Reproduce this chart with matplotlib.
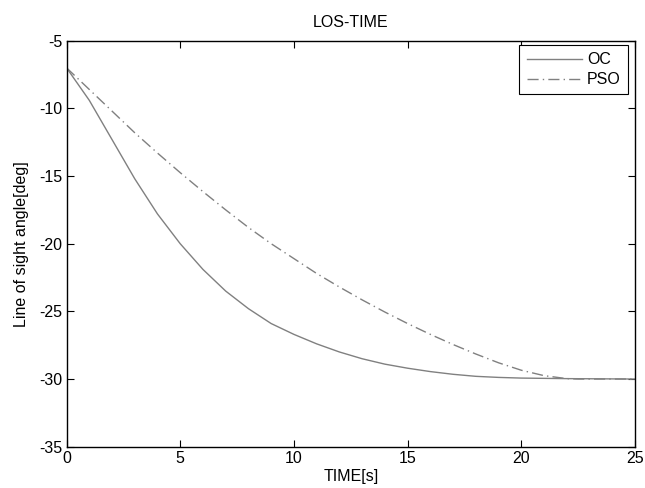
import numpy as np
import matplotlib
matplotlib.use("Agg")
import matplotlib.pyplot as plt

# values
t_oc = [0, 1, 2, 3, 4, 5, 6, 7, 8, 9, 10, 11, 12, 13, 14, 15, 16, 17, 18, 19, 20, 22, 25]
los_oc = [-7.0, -9.4, -12.3, -15.2, -17.8, -20.0, -21.9, -23.5, -24.8, -25.9, -26.7, -27.4,
          -28.0, -28.5, -28.9, -29.2, -29.45, -29.65, -29.8, -29.88, -29.93, -29.97, -30.0]

t_pso = [0, 1, 2, 3, 4, 5, 6, 7, 8, 9, 10, 11, 12, 13, 14, 15, 16, 17, 18, 19, 20, 21, 22, 22.5, 25]
los_pso = [-7.0, -8.6, -10.2, -11.8, -13.3, -14.75, -16.15, -17.5, -18.8, -20.0, -21.1, -22.2,
           -23.2, -24.15, -25.05, -25.9, -26.7, -27.45, -28.15, -28.8, -29.35, -29.75, -29.97,
           -30.0, -30.0]

plt.rcParams['font.family'] = ['Liberation Sans', 'DejaVu Sans']
plt.rcParams['font.size'] = 11.5
plt.rcParams['axes.unicode_minus'] = False

fig = plt.figure(figsize=(6.45, 4.88), dpi=100)
ax = fig.add_axes([66.5/645, 1 - 446.7/488, (635 - 66.5)/645, (446.7 - 40.7)/488])

grey = '#808080'
ax.plot(t_oc, los_oc, color=grey, lw=1.0, label='OC')
ax.plot(t_pso, los_pso, color=grey, lw=1.0, linestyle=(0, (8, 3, 1, 3)), label='PSO')

ax.set_xlim(0, 25)
ax.set_ylim(-35, -5)
ax.set_xticks([0, 5, 10, 15, 20, 25])
ax.set_yticks([-35, -30, -25, -20, -15, -10, -5])
ax.tick_params(direction='in', length=5, width=0.8, top=True, right=True, pad=3)
for s in ax.spines.values():
    s.set_linewidth(1.0)

ax.set_title('LOS-TIME', fontsize=11.5, pad=10)
ax.set_xlabel('TIME[s]', labelpad=2)
ax.set_ylabel('Line of sight angle[deg]', labelpad=7)

# legend box sits a few pixels in from the top right corner
leg = ax.legend(loc='upper right', bbox_to_anchor=(0.988, 0.989), fancybox=False,
                edgecolor='black', framealpha=1, handlelength=3.5, borderaxespad=0,
                borderpad=0.45, labelspacing=0.3, handletextpad=0.3)
leg.get_frame().set_linewidth(0.8)

fig.savefig('out.png', dpi=100)
